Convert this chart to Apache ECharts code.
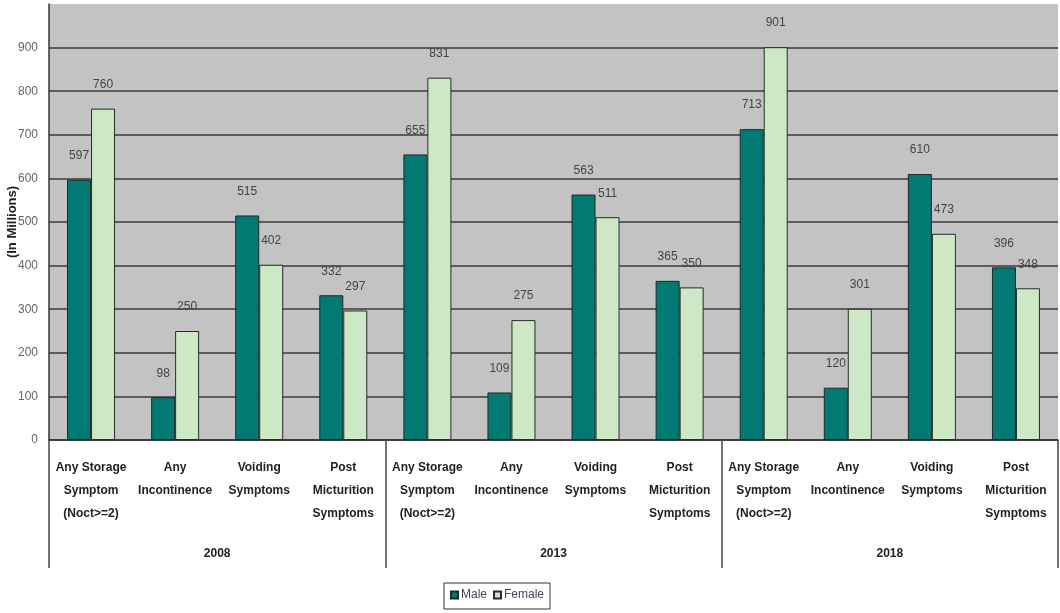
<!DOCTYPE html>
<html>
<head>
<meta charset="utf-8">
<script src="https://cdn.jsdelivr.net/npm/echarts@6/dist/echarts.min.js"></script>
<style>html,body{margin:0;padding:0;background:#fff}#c{width:1060px;height:613px}</style>
</head>
<body>
<div id="c"></div>
<script>
const categories = [
  "Any Storage\nSymptom\n(Noct>=2)", "Any\nIncontinence", "Voiding\nSymptoms", "Post\nMicturition\nSymptoms",
  "Any Storage\nSymptom\n(Noct>=2)", "Any\nIncontinence", "Voiding\nSymptoms", "Post\nMicturition\nSymptoms",
  "Any Storage\nSymptom\n(Noct>=2)", "Any\nIncontinence", "Voiding\nSymptoms", "Post\nMicturition\nSymptoms"
];
const years = ["2008", "2013", "2018"];
const male = [597, 98, 515, 332, 655, 109, 563, 365, 713, 120, 610, 396];
const female = [760, 250, 402, 297, 831, 275, 511, 350, 901, 301, 473, 348];
const yTicks = [0, 100, 200, 300, 400, 500, 600, 700, 800, 900];

const FONT = "'Liberation Sans Narrow', 'Liberation Sans', Arial, sans-serif";
const chart = echarts.init(document.getElementById('c'));
const splitColors = yTicks.map(() => '#3a3a3a').concat(['rgba(0,0,0,0)']);
chart.setOption({
  animation: false,
  backgroundColor: '#ffffff',
  textStyle: { fontFamily: FONT },
  grid: { left: 49, right: 2, top: 4, bottom: 173, show: true, backgroundColor: '#c3c3c3', borderWidth: 0,
    containLabel: false, outerBoundsMode: 'none' },
  legend: {
    data: ['Male', 'Female'],
    left: 444, top: 583,
    itemWidth: 7, itemHeight: 7, itemGap: 6,
    icon: 'rect',
    borderColor: '#333', borderWidth: 1, padding: [6, 6, 8, 6],
    textStyle: { fontFamily: FONT, fontSize: 12, color: '#4a4060', padding: [0, 0, 0, -2] }
  },
  xAxis: [
    {
      type: 'category', data: categories, position: 'bottom',
      axisLine: { show: true, lineStyle: { color: '#333', width: 1.5 } },
      axisTick: { show: false },
      axisLabel: { interval: 0, margin: 16, fontFamily: FONT, fontSize: 12, fontWeight: 'bold', color: '#222', lineHeight: 23 }
    },
    {
      type: 'category', data: years, position: 'bottom',
      axisLine: { show: false },
      axisTick: { show: true, length: 128, interval: 0, lineStyle: { color: '#444', width: 1.5 } },
      axisLabel: { interval: 0, margin: 108, fontFamily: FONT, fontSize: 12, fontWeight: 'bold', color: '#222' }
    }
  ],
  yAxis: {
    type: 'value', min: 0, max: 1000, interval: 100,
    name: '(In Millions)', nameLocation: 'middle', nameGap: 30, nameRotate: 90, nameMoveOverlap: false,
    nameTextStyle: { fontFamily: FONT, fontSize: 13, fontWeight: 'bold', color: '#222' },
    axisLine: { show: true, lineStyle: { color: '#333', width: 1.5 } },
    axisTick: { show: false },
    axisLabel: { margin: 11, fontFamily: FONT, fontSize: 12, color: '#666',
      formatter: v => yTicks.indexOf(v) >= 0 ? String(v) : '' },
    splitLine: { show: true, lineStyle: { color: splitColors, width: 1.5 } }
  },
  series: [
    {
      name: 'Male', type: 'bar', data: male, xAxisIndex: 0, barWidth: 24, barGap: '0%',
      itemStyle: { color: '#007a72', borderColor: '#1e2a28', borderWidth: 1 },
      label: { show: true, position: 'top', distance: 18, fontFamily: FONT, fontSize: 12, color: '#444' }
    },
    {
      name: 'Female', type: 'bar', data: female, xAxisIndex: 0, barWidth: 24,
      itemStyle: { color: '#cde8c5', borderColor: '#2a2a2a', borderWidth: 1 },
      label: { show: true, position: 'top', distance: 18, fontFamily: FONT, fontSize: 12, color: '#444' }
    }
  ]
});
</script>
</body>
</html>
